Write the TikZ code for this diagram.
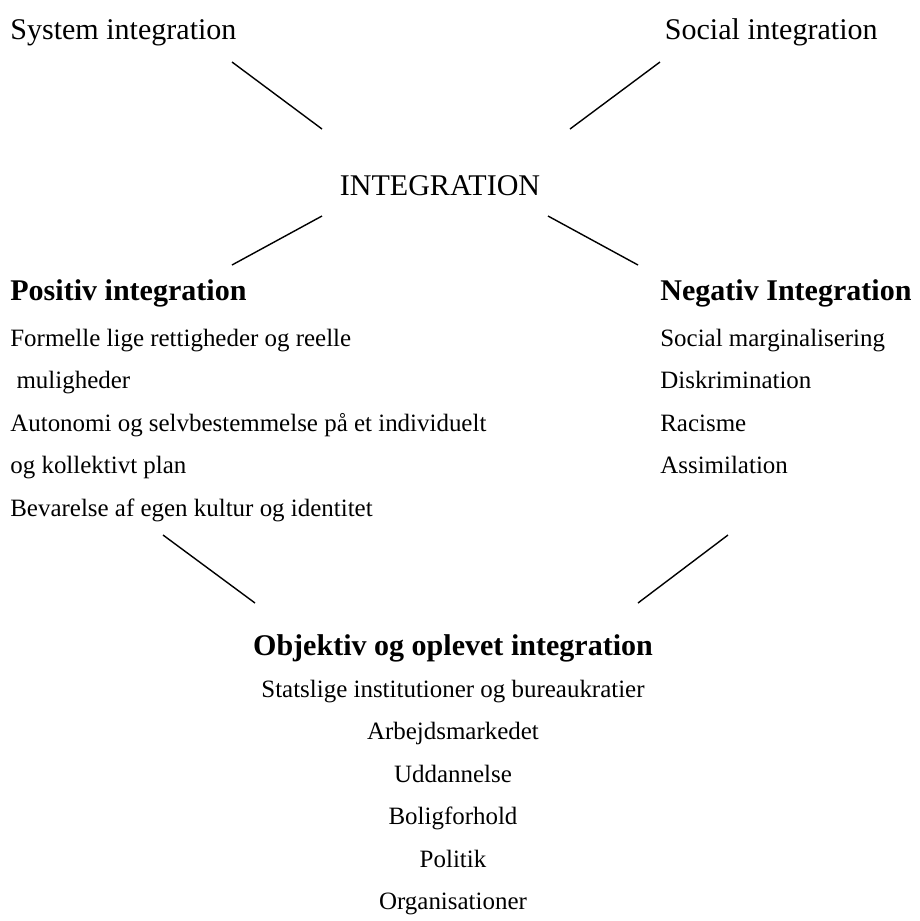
\documentclass[tikz,border=0pt]{standalone}
\usepackage{fontspec}
\setmainfont{Liberation Serif}
\begin{document}
\begin{tikzpicture}[x=0.02cm,y=-0.02cm,
  big/.style={inner sep=0pt,font=\fontsize{17.1}{20}\selectfont},
  bigb/.style={inner sep=0pt,font=\fontsize{17.1}{20}\selectfont\bfseries},
  small/.style={inner sep=0pt,font=\fontsize{14.2}{17}\selectfont},
  link/.style={line width=0.8pt}]
\useasboundingbox (0,0) rectangle (920,921);
% top labels
\node[big,anchor=base west] (sys) at (10,39) {System integration};
\node[big,anchor=base east] (soc) at (878,39) {Social integration};
\node[big,anchor=base] (int) at (440,195) {INTEGRATION};
% left column
\node[bigb,anchor=base west] (pos) at (10,300) {Positiv integration};
\node[small,anchor=base west] (p1) at (10,346) {Formelle lige rettigheder og reelle};
\node[small,anchor=base west] (p2) at (10,388.5) {\ muligheder};
\node[small,anchor=base west] (p3) at (10,431) {Autonomi og selvbestemmelse på et individuelt};
\node[small,anchor=base west] (p4) at (10,473.5) {og kollektivt plan};
\node[small,anchor=base west] (p5) at (10,516) {Bevarelse af egen kultur og identitet};
% right column
\node[bigb,anchor=base west] (neg) at (660,300) {Negativ Integration};
\node[small,anchor=base west] (n1) at (660,346) {Social marginalisering};
\node[small,anchor=base west] (n2) at (660,388.5) {Diskrimination};
\node[small,anchor=base west] (n3) at (660,431) {Racisme};
\node[small,anchor=base west] (n4) at (660,473.5) {Assimilation};
% bottom
\node[bigb,anchor=base] (obj) at (453,655) {Objektiv og oplevet integration};
\node[small,anchor=base] (o1) at (453,697) {Statslige institutioner og bureaukratier};
\node[small,anchor=base] (o2) at (453,739.5) {Arbejdsmarkedet};
\node[small,anchor=base] (o3) at (453,782) {Uddannelse};
\node[small,anchor=base] (o4) at (453,824.5) {Boligforhold};
\node[small,anchor=base] (o5) at (453,867) {Politik};
\node[small,anchor=base] (o6) at (453,909.5) {Organisationer};
% connector ends
\coordinate (a1) at (232,62); \coordinate (a2) at (322,129);
\coordinate (b1) at (660,62); \coordinate (b2) at (570,129);
\coordinate (c1) at (322,216); \coordinate (c2) at (232,265);
\coordinate (d1) at (548,216); \coordinate (d2) at (638,265);
\coordinate (e1) at (163,535); \coordinate (e2) at (255,603);
\coordinate (f1) at (728,535); \coordinate (f2) at (638,603);
\draw[link] (a1) -- (a2);
\draw[link] (b1) -- (b2);
\draw[link] (c1) -- (c2);
\draw[link] (d1) -- (d2);
\draw[link] (e1) -- (e2);
\draw[link] (f1) -- (f2);
\end{tikzpicture}
\end{document}
